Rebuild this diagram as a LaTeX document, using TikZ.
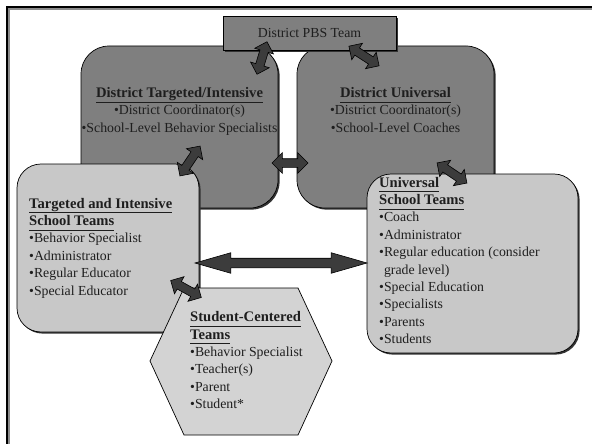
\documentclass[tikz,border=0pt]{standalone}
\usepackage{fontspec}
\setmainfont{Liberation Serif}
\usetikzlibrary{shapes.arrows,shadows}

\definecolor{darkbox}{HTML}{7F7F7F}
\definecolor{lightbox}{HTML}{C8C8C8}
\definecolor{hexfill}{HTML}{D3D3D3}
\definecolor{arrowfill}{HTML}{3C3C3C}
\definecolor{inktext}{HTML}{1E1E1E}

% bold, underlined heading line with a uniform underline depth
\newcommand\ttl[1]{{\fontsize{14.6}{17.4}\selectfont\underline{\textbf{#1}\vphantom{g}}}}

\begin{document}
\begin{tikzpicture}[x=1pt,y=-1pt,
  lbl/.style={font=\fontsize{13.8}{17.4}\selectfont, text=inktext, inner sep=0pt},
  boxshadow/.style={drop shadow={shadow xshift=1.6pt, shadow yshift=-1.6pt, fill=black!80, opacity=1}},
  districtbox/.style={rectangle, rounded corners=28pt, draw=black, line width=0.7pt,
    fill=darkbox, boxshadow, inner sep=0pt},
  schoolbox/.style={rectangle, rounded corners=24pt, draw=black, line width=0.7pt,
    fill=lightbox, boxshadow, inner sep=0pt},
  blockarrow/.style={double arrow, draw=black, line width=0.6pt, fill=arrowfill,
    inner sep=0pt, text height=8pt, text depth=0pt, text width=0pt,
    double arrow head extend=5.5pt, double arrow tip angle=90},
]
\useasboundingbox (0,0) rectangle (592,444);

% page frame (only its top and left sides fall inside the page)
\begin{scope}
  \clip (0,0) rectangle (592,444);
  \draw[line width=1.3pt, black!45] (9.1,9.1) rectangle (620,470);
  \draw[line width=2.5pt, black] (7.2,7.2) rectangle (620,470);
\end{scope}

% district level
\node[districtbox, minimum width=197pt, minimum height=162pt] (dt) at (179.5,127) {};
\node[districtbox, minimum width=197pt, minimum height=162pt] (du) at (395.5,127) {};
\node[rectangle, draw=black, line width=0.7pt, fill=darkbox, boxshadow,
      minimum width=173pt, minimum height=34pt, inner sep=0pt] (pbs) at (309.5,33) {};
\node[lbl, anchor=base] (pbsText) at (309.5,38) {District PBS Team};

\node[lbl, anchor=base] (dtText) at (179.5,97.3) {\begin{tabular}[t]{@{}c@{}}
  \ttl{District Targeted/Intensive}\\
  •District Coordinator(s)\\
  •School-Level Behavior Specialists
\end{tabular}};
\node[lbl, anchor=base] (duText) at (395.5,97.3) {\begin{tabular}[t]{@{}c@{}}
  \ttl{District Universal}\\
  •District Coordinator(s)\\
  •School-Level Coaches
\end{tabular}};

% school level
\node[schoolbox, minimum width=182pt, minimum height=168pt] (ts) at (108,248) {};
\node[lbl, anchor=base west] (tsText) at (29,208) {\begin{tabular}[t]{@{}l@{}}
  \ttl{Targeted and Intensive}\\
  \ttl{School Teams}\\
  •Behavior Specialist\\
  •Administrator\\
  •Regular Educator\\
  •Special Educator
\end{tabular}};

\node[schoolbox, minimum width=211pt, minimum height=179pt] (us) at (472.5,263.5) {};
\node[lbl, anchor=base west] (usText) at (379,187) {\begin{tabular}[t]{@{}l@{}}
  \ttl{Universal}\\
  \ttl{School Teams}\\
  •Coach\\
  •Administrator\\
  •Regular education (consider\\
  \phantom{•}grade level)\\
  •Special Education\\
  •Specialists\\
  •Parents\\
  •Students
\end{tabular}};

% student level
\draw[line width=0.7pt, fill=hexfill]
  (150,361) -- (184,288) -- (298,288) -- (332,361) -- (298,435) -- (184,435) -- cycle;
\coordinate (sc) at (241,361);
\node[lbl, anchor=base west] (scText) at (190,321.7) {\begin{tabular}[t]{@{}l@{}}
  \ttl{Student-Centered}\\
  \ttl{Teams}\\
  •Behavior Specialist\\
  •Teacher(s)\\
  •Parent\\
  •Student*
\end{tabular}};

% two-way links
\node[blockarrow, minimum height=34pt, rotate=73]  (pbsdt) at (262,58) {};
\node[blockarrow, minimum height=36pt, rotate=-33] (pbsdu) at (364,56) {};
\node[blockarrow, minimum height=36pt, rotate=56]  (dtts)  at (190,161) {};
\node[blockarrow, minimum height=36pt, double arrow head extend=6pt] (dtdu) at (290,163) {};
\node[blockarrow, minimum height=36pt, rotate=-34] (duus)  at (452,173) {};
\node[blockarrow, minimum height=172pt, text height=9pt, double arrow head extend=5.5pt,
      double arrow tip angle=32] (tsus) at (281,263) {};
\node[blockarrow, minimum height=35pt, rotate=-29] (tssc)  at (186,289) {};
\end{tikzpicture}
\end{document}
